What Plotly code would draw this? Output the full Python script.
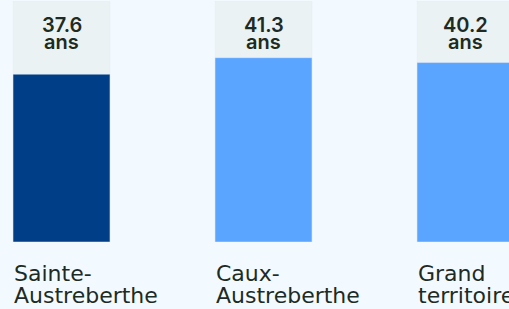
import plotly.graph_objects as go

category_lines = [["Sainte-", "Austreberthe"], ["Caux-", "Austreberthe"], ["Grand", "territoire"]]
values = [37.6, 41.3, 40.2]
value_numbers = ["37.6", "41.3", "40.2"]
unit = "ans"
bar_colors = ["#003f87", "#59a5ff", "#59a5ff"]
max_value = 54

xs = list(range(len(category_lines)))
fig = go.Figure()
fig.add_trace(go.Bar(x=xs, y=[max_value] * len(xs), marker_color="#ebf2f3",
                     width=0.48, hoverinfo="skip", showlegend=False))
fig.add_trace(go.Bar(x=xs, y=values, marker_color=bar_colors,
                     width=0.48, showlegend=False))

vfont = dict(family="Inter", size=20, weight=600, color="#1d2b24")
cfont = dict(family="DejaVu Sans", size=22, color="#1d2b24")
for i, (lines, num) in enumerate(zip(category_lines, value_numbers)):
    fig.add_annotation(x=i, y=max_value, text=num, showarrow=False,
                       xanchor="center", yanchor="top", yshift=-10, font=vfont)
    fig.add_annotation(x=i, y=max_value, text=unit, showarrow=False,
                       xanchor="center", yanchor="top", yshift=-27, font=vfont)
    for k, line in enumerate(lines):
        fig.add_annotation(x=i - 0.24, y=0, text=line, showarrow=False, align="left",
                           xanchor="left", yanchor="top", yshift=-17 - 22 * k, xshift=-1,
                           font=cfont)

fig.update_layout(
    width=509, height=309,
    margin=dict(l=0, r=0, t=1, b=67),
    paper_bgcolor="#f3faff", plot_bgcolor="#f3faff",
    barmode="overlay",
    xaxis=dict(range=[-61.5 / 202, (509 - 61.5) / 202], visible=False),
    yaxis=dict(range=[0, max_value], visible=False),
)
fig.write_html("out.html", config={"displayModeBar": False},
               post_script="document.body.style.margin='0';")
